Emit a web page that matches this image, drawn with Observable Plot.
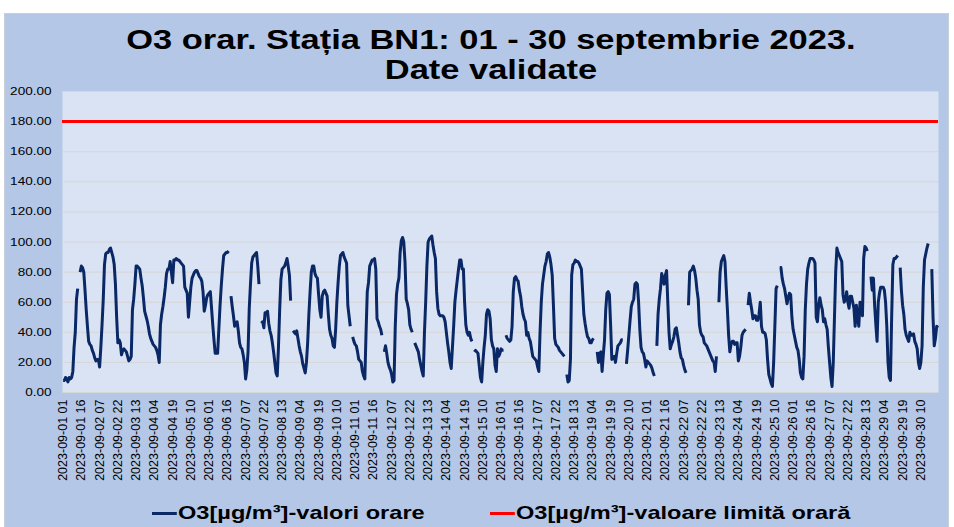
<!DOCTYPE html>
<html>
<head>
<meta charset="utf-8">
<script src="https://cdn.jsdelivr.net/npm/d3@7"></script>
<script src="https://cdn.jsdelivr.net/npm/@observablehq/plot@0.6"></script>
<style>
  html, body { margin: 0; padding: 0; background: #ffffff; }
  #chart { position: relative; width: 954px; height: 527px; overflow: hidden;
           font-family: "Liberation Sans", Arial, sans-serif; color: #000; }
  #bg { position: absolute; left: 4px; top: 13px; width: 945px; height: 520px;
        background: #B4C7E7; border: 1px solid #c8d0dc; box-sizing: border-box; }
  #title { position: absolute; left: 0; top: 25px; width: 982px; text-align: center;
           font-weight: bold; font-size: 28px; line-height: 30px;
           transform: scaleX(1.23); transform-origin: 491px 0; }
  #plot { position: absolute; left: 0; top: 80px; }
  .leg { position: absolute; top: 503px; display: flex; align-items: center;
         font-weight: bold; font-size: 19px; line-height: 20px; white-space: nowrap;
         transform: scaleX(1.24); transform-origin: 0 50%; }
  .sw { display: inline-block; width: 20px; height: 3px; margin-right: 1px; }
</style>
</head>
<body>
<div id="chart">
  <div id="bg"></div>
  <div id="title"></div>
  <div id="plot"></div>
  <div id="leg1" class="leg"></div>
  <div id="leg2" class="leg"></div>
</div>
<script>
// ---- Text ----
const titleLines = ["O3 orar. Stația BN1: 01 - 30 septembrie 2023.", "Date validate"];
const seriesNames = ["O3[µg/m³]-valori orare", "O3[µg/m³]-valoare limită orară"];
const seriesColors = ["#0A2865", "#FF0000"];

// ---- Hourly O3 values (µg/m³), 2023-09-01 01 ... 2023-09-30 24; null = missing ----
const o3Hourly = [
  /* 09-01 */ 8,8,10,9,7,10,9,10,14,30,40,62,69,null,80,84,83,80,68,55,44,34,32,31,
  /* 09-02 */ 28,26,23,21,22,22,17,30,45,62,85,92,93,93,95,96,93,90,85,72,50,33,35,33,
  /* 09-03 */ 25,28,29,28,27,24,21,22,24,55,62,72,84,84,83,82,76,71,63,54,51,48,44,39,
  /* 09-04 */ 36,34,32,31,30,28,25,20,45,52,57,63,70,79,82,82,87,80,73,88,88,89,88,88,
  /* 09-05 */ 87,86,85,84,70,68,66,50,60,70,76,78,80,81,81,79,77,76,74,67,54,58,63,65,
  /* 09-06 */ 66,67,56,45,35,26,26,26,42,58,71,82,91,92,93,93,94,null,64,57,51,44,46,47,
  /* 09-07 */ 41,33,30,29,25,20,9,15,27,56,72,86,90,91,92,93,84,72,null,46,47,43,53,53,
  /* 09-08 */ 54,46,41,38,33,27,20,13,11,30,55,75,82,83,84,86,89,84,78,61,null,41,40,39,
  /* 09-09 */ 41,36,31,27,24,19,16,13,20,33,52,67,80,84,84,79,77,76,65,55,50,64,67,68,
  /* 09-10 */ 66,64,52,42,38,36,31,30,42,60,73,84,91,92,93,90,88,86,58,51,44,null,37,34,
  /* 09-11 */ 32,31,27,22,21,20,14,11,9,40,67,73,84,86,88,88,89,82,49,47,44,42,38,null,
  /* 09-12 */ 27,31,26,20,17,15,12,7,8,44,65,72,76,93,101,103,100,87,62,59,55,45,42,40,
  /* 09-13 */ null,33,31,29,27,22,18,14,11,40,60,84,100,102,103,104,98,93,89,67,56,52,51,51,
  /* 09-14 */ 51,50,47,40,33,27,20,16,30,44,60,68,75,82,88,88,82,82,60,45,40,38,40,36,
  /* 09-15 */ 34,null,27,28,27,26,18,10,7,20,30,38,52,55,54,49,35,31,29,18,14,29,24,26,
  /* 09-16 */ 29,28,28,null,38,36,35,34,35,44,67,76,77,75,74,68,64,57,52,49,47,38,40,36,
  /* 09-17 */ 34,29,24,23,22,21,17,14,40,60,72,78,84,87,92,93,90,85,78,58,36,32,31,30,
  /* 09-18 */ 28,27,26,25,24,null,12,7,8,22,78,85,86,88,87,87,86,84,82,67,52,46,41,37,
  /* 09-19 */ 36,33,33,35,36,null,null,27,20,26,27,14,25,35,55,66,67,65,45,22,23,24,20,26,
  /* 09-20 */ 31,32,33,35,35,null,null,19,28,38,48,57,60,62,72,73,72,60,42,30,27,26,22,17,
  /* 09-21 */ 21,20,19,18,16,13,11,null,31,52,62,69,79,76,72,78,81,60,40,29,32,34,37,42,
  /* 09-22 */ 43,38,33,27,23,22,18,15,13,null,58,80,81,82,84,81,76,68,62,45,40,38,37,33,
  /* 09-23 */ 32,31,29,27,25,23,21,20,14,24,null,60,80,87,89,91,87,70,55,38,27,32,34,34,
  /* 09-24 */ 32,33,33,21,24,30,38,40,41,42,null,58,66,60,55,49,51,51,48,48,52,60,44,40,
  /* 09-25 */ 40,39,35,22,12,9,6,4,20,44,69,71,null,83,83,76,72,69,64,59,63,66,65,50,
  /* 09-26 */ 42,38,34,30,28,22,13,10,9,24,55,72,82,86,89,89,89,88,86,50,47,58,63,58,
  /* 09-27 */ 55,47,49,45,42,30,20,10,4,20,50,80,96,93,91,89,87,65,60,62,67,60,56,64,
  /* 09-28 */ 64,60,56,44,58,50,44,60,55,51,89,97,96,94,null,null,77,68,76,58,45,34,60,66,
  /* 09-29 */ 70,70,70,68,60,44,20,10,8,50,85,89,89,90,91,null,83,68,58,52,42,38,36,34,
  /* 09-30 */ 40,38,38,39,34,32,29,20,16,20,31,70,88,92,96,99,null,null,82,50,31,36,44,43
];

// Hourly limit value
const limitValue = [180];

// Axis ticks
const yTicks = [0, 20, 40, 60, 80, 100, 120, 140, 160, 180, 200];
const xTickLabels = [
  "2023-09-01 01","2023-09-01 16","2023-09-02 07","2023-09-02 22","2023-09-03 13","2023-09-04 04",
  "2023-09-04 19","2023-09-05 10","2023-09-06 01","2023-09-06 16","2023-09-07 07","2023-09-07 22",
  "2023-09-08 13","2023-09-09 04","2023-09-09 19","2023-09-10 10","2023-09-11 01","2023-09-11 16",
  "2023-09-12 07","2023-09-12 22","2023-09-13 13","2023-09-14 04","2023-09-14 19","2023-09-15 10",
  "2023-09-16 01","2023-09-16 16","2023-09-17 07","2023-09-17 22","2023-09-18 13","2023-09-19 04",
  "2023-09-19 19","2023-09-20 10","2023-09-21 01","2023-09-21 16","2023-09-22 07","2023-09-22 22",
  "2023-09-23 13","2023-09-24 04","2023-09-24 19","2023-09-25 10","2023-09-26 01","2023-09-26 16",
  "2023-09-27 07","2023-09-27 22","2023-09-28 13","2023-09-29 04","2023-09-29 19","2023-09-30 10"
];

// ---- Build ----
const data = o3Hourly.map((v, i) => ({i, v}));
// hour index of a label "YYYY-MM-DD HH" (index 0 = 09-01 01)
const labelIndex = s => (+s.slice(8, 10) - 1) * 24 + (+s.slice(11, 13)) - 1;
const xTickIdx = xTickLabels.map(labelIndex);
const idxToLabel = new Map(xTickLabels.map(s => [labelIndex(s), s]));

document.getElementById("title").innerHTML = titleLines.map(t => `<div>${t}</div>`).join("");

const svg = Plot.plot({
  width: 954,
  height: 420,
  marginLeft: 62,
  marginRight: 16,
  marginTop: 11,
  marginBottom: 108,
  style: {background: "transparent", fontFamily: "'Liberation Sans', Arial, sans-serif", color: "#000"},
  x: {type: "linear", domain: [-0.5, o3Hourly.length - 0.5], label: null},
  y: {domain: [0, 200], label: null},
  marks: [
    Plot.frame({fill: "#DAE3F3", stroke: null}),
    Plot.gridY(yTicks, {stroke: "#D6D6D6", strokeOpacity: 1, strokeWidth: 1}),
    Plot.ruleY(limitValue, {stroke: seriesColors[1], strokeWidth: 3}),
    Plot.lineY(data, {x: "i", y: "v", stroke: seriesColors[0], strokeWidth: 3,
                      strokeLinejoin: "round", strokeLinecap: "butt"}),
    Plot.axisY(yTicks, {tickFormat: d => d.toFixed(2), tickSize: 0, tickPadding: 11,
                        fontSize: 11, fill: "#000", label: null}),
    Plot.axisX(xTickIdx, {tickFormat: d => idxToLabel.get(d), tickRotate: -90, tickSize: 0,
                          tickPadding: 7, fontSize: 12.5, fill: "#000", label: null})
  ]
});
// widen the y tick labels horizontally like the reference rendering
svg.querySelectorAll('g[aria-label="y-axis tick label"] text').forEach(t => {
  const tr = t.getAttribute("transform");
  if (tr) t.setAttribute("transform", tr + " scale(1.23,1)");
});
document.getElementById("plot").appendChild(svg);

// ---- Legend ----
const legPos = [152, 490];
["leg1", "leg2"].forEach((id, k) => {
  const el = document.getElementById(id);
  el.style.left = legPos[k] + "px";
  el.innerHTML = `<span class="sw" style="background:${seriesColors[k]}"></span><span>${seriesNames[k]}</span>`;
});
</script>
</body>
</html>
